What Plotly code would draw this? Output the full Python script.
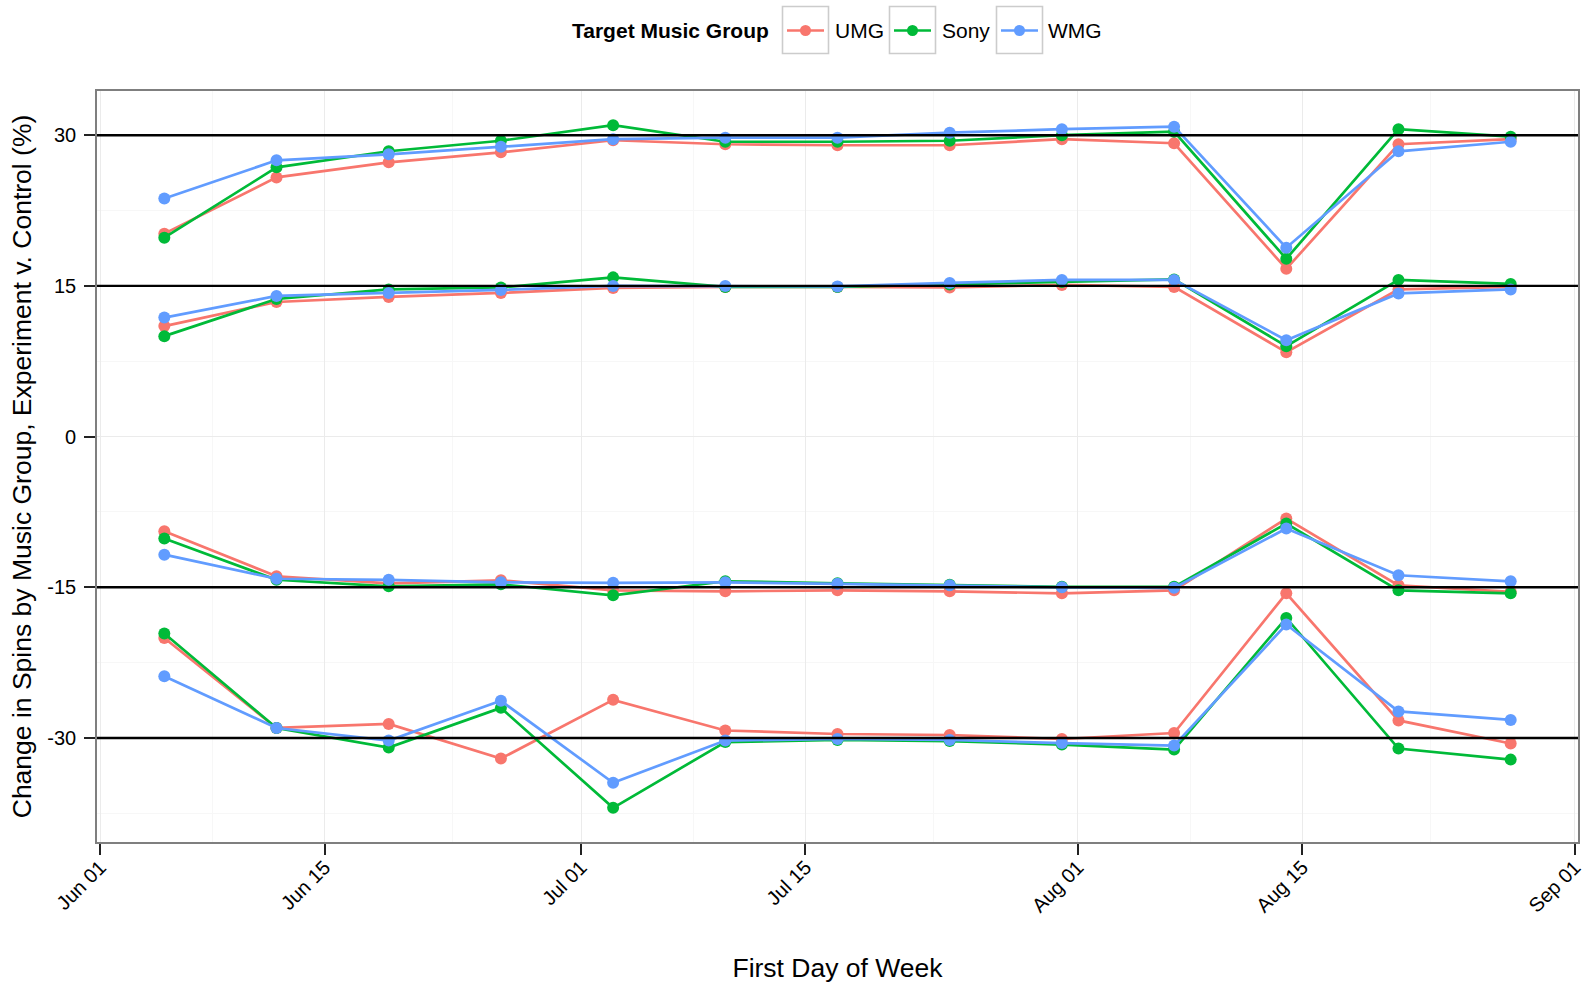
import plotly.graph_objects as go

weeks = ["2014-06-05", "2014-06-12", "2014-06-19", "2014-06-26", "2014-07-03",
         "2014-07-10", "2014-07-17", "2014-07-24", "2014-07-31", "2014-08-07",
         "2014-08-14", "2014-08-21", "2014-08-28"]

groups = ["UMG", "Sony", "WMG"]
colors = {"UMG": "#F8766D", "Sony": "#00BA38", "WMG": "#619CFF"}

# target +30
umg_p30 = [20.2, 25.8, 27.3, 28.3, 29.5, 29.1, 29.0, 29.0, 29.6, 29.2, 16.7, 29.1, 29.6]
sony_p30 = [19.8, 26.8, 28.4, 29.45, 31.0, 29.35, 29.35, 29.45, 30.0, 30.35, 17.7, 30.6, 29.85]
wmg_p30 = [23.7, 27.5, 28.1, 28.85, 29.6, 29.75, 29.75, 30.25, 30.6, 30.85, 18.8, 28.4, 29.35]

# target +15
umg_p15 = [11.0, 13.4, 13.9, 14.3, 14.8, 14.9, 14.9, 14.85, 15.1, 14.9, 8.4, 14.65, 14.9]
sony_p15 = [10.0, 13.7, 14.65, 14.85, 15.85, 14.9, 14.9, 15.15, 15.4, 15.65, 9.0, 15.6, 15.2]
wmg_p15 = [11.85, 14.0, 14.3, 14.6, 15.0, 15.0, 14.95, 15.3, 15.6, 15.6, 9.6, 14.25, 14.65]

# target -15
umg_m15 = [-9.42, -13.9, -14.6, -14.3, -15.3, -15.4, -15.3, -15.4, -15.6, -15.3, -8.15, -14.8, -15.45]
sony_m15 = [-10.15, -14.25, -14.9, -14.7, -15.8, -14.4, -14.6, -14.75, -14.95, -14.95, -8.65, -15.3, -15.6]
wmg_m15 = [-11.75, -14.15, -14.25, -14.5, -14.55, -14.5, -14.65, -14.8, -15.0, -15.05, -9.15, -13.8, -14.4]

# target -30
umg_m30 = [-20.05, -29.0, -28.6, -32.05, -26.2, -29.25, -29.6, -29.7, -30.1, -29.5, -15.6, -28.25, -30.55]
sony_m30 = [-19.6, -29.0, -30.95, -27.0, -36.95, -30.4, -30.2, -30.3, -30.65, -31.15, -18.05, -31.05, -32.15]
wmg_m30 = [-23.85, -29.0, -30.25, -26.3, -34.45, -30.25, -30.1, -30.2, -30.5, -30.75, -18.7, -27.35, -28.2]

targets = [30, 15, -15, -30]
series = {
    30: {"UMG": umg_p30, "Sony": sony_p30, "WMG": wmg_p30},
    15: {"UMG": umg_p15, "Sony": sony_p15, "WMG": wmg_p15},
    -15: {"UMG": umg_m15, "Sony": sony_m15, "WMG": wmg_m15},
    -30: {"UMG": umg_m30, "Sony": sony_m30, "WMG": wmg_m30},
}

y_ticks = [-30, -15, 0, 15, 30]
y_minor = [-37.5, -22.5, -7.5, 7.5, 22.5]
x_ticks = ["2014-06-01", "2014-06-15", "2014-07-01", "2014-07-15",
           "2014-08-01", "2014-08-15", "2014-09-01"]
x_ticklabels = ["Jun 01", "Jun 15", "Jul 01", "Jul 15", "Aug 01", "Aug 15", "Sep 01"]
x_minor = ["2014-06-08", "2014-06-23", "2014-07-08", "2014-07-23",
           "2014-08-08", "2014-08-23"]

W, H = 1586, 983
ML, MR, MT, MB = 97, 8, 91, 141
PW, PH = W - ML - MR, H - MT - MB


def px_x(px):
    return (px - ML) / PW


def px_y(py):
    return (H - MB - py) / PH


LW = 2.7
MS = 12

fig = go.Figure()
for t in targets:
    for g in groups:
        fig.add_trace(go.Scatter(
            x=weeks, y=series[t][g], mode="lines+markers", name=g,
            legendgroup=g, showlegend=False,
            line=dict(color=colors[g], width=LW),
            marker=dict(color=colors[g], size=MS),
        ))

for t in targets:
    fig.add_hline(y=t, line=dict(color="black", width=2.4), layer="above")

font_family = "Liberation Sans, Arial, sans-serif"

# legend drawn as boxed keys, ggplot style
leg_y = 30.5
box_top, box_bot = 6.5, 53.5
box_x0 = [782.5, 889.5, 996.5]
box_w = 46
label_x = [833, 940, 1046]
fig.add_annotation(text="<b>Target Music Group</b>", xref="paper", yref="paper",
                   x=px_x(771), y=px_y(leg_y), xanchor="right", yanchor="middle",
                   showarrow=False, font=dict(size=21, family=font_family, color="black"))
for g, bx, lx in zip(groups, box_x0, label_x):
    fig.add_shape(type="rect", xref="paper", yref="paper",
                  x0=px_x(bx), x1=px_x(bx + box_w), y0=px_y(box_bot), y1=px_y(box_top),
                  line=dict(color="#CCCCCC", width=1.6), fillcolor="white", layer="above")
    fig.add_shape(type="line", xref="paper", yref="paper",
                  x0=px_x(bx + 4.5), x1=px_x(bx + box_w - 4.5), y0=px_y(leg_y), y1=px_y(leg_y),
                  line=dict(color=colors[g], width=LW), layer="above")
    cx = bx + box_w / 2
    r = 5.5
    fig.add_shape(type="circle", xref="paper", yref="paper",
                  x0=px_x(cx - r), x1=px_x(cx + r), y0=px_y(leg_y + r), y1=px_y(leg_y - r),
                  line=dict(color=colors[g], width=0), fillcolor=colors[g], layer="above")
    fig.add_annotation(text=g, xref="paper", yref="paper",
                       x=px_x(lx), y=px_y(leg_y), xanchor="left", yanchor="middle",
                       showarrow=False, font=dict(size=21, family=font_family, color="black"))

fig.update_layout(
    width=W, height=H,
    margin=dict(l=ML, r=MR, t=MT, b=MB, autoexpand=False),
    paper_bgcolor="white", plot_bgcolor="white",
    font=dict(family=font_family, color="black", size=20),
    showlegend=False,
    xaxis=dict(
        type="date", automargin=False,
        range=["2014-05-31 19:12", "2014-09-01 04:48"],
        tickvals=x_ticks, ticktext=x_ticklabels, tickangle=-45,
        tickfont=dict(size=20), ticklabelstandoff=-7,
        ticks="outside", ticklen=11, tickwidth=1.5, tickcolor="#222222",
        showgrid=True, gridcolor="#EBEBEB", gridwidth=1.2,
        minor=dict(tickvals=x_minor, showgrid=True, gridcolor="#F7F7F7", gridwidth=1.2, ticks=""),
        showline=True, linecolor="#7F7F7F", linewidth=1.6, mirror=True,
        zeroline=False,
        title=dict(text="First Day of Week", font=dict(size=26.5), standoff=45),
    ),
    yaxis=dict(
        automargin=False,
        range=[-40.35, 34.4],
        tickvals=y_ticks, ticktext=[str(v) for v in y_ticks],
        tickfont=dict(size=20), ticklabelstandoff=4,
        ticks="outside", ticklen=11, tickwidth=1.5, tickcolor="#222222",
        showgrid=True, gridcolor="#EBEBEB", gridwidth=1.2,
        minor=dict(tickvals=y_minor, showgrid=True, gridcolor="#F7F7F7", gridwidth=1.2, ticks=""),
        showline=True, linecolor="#7F7F7F", linewidth=1.6, mirror=True,
        zeroline=False,
        title=dict(text="Change in Spins by Music Group, Experiment v. Control (%)",
                   font=dict(size=26.5), standoff=8),
    ),
)

fig.write_html("out.html", config={"displayModeBar": False},
               post_script="document.body.style.margin='0px';")
